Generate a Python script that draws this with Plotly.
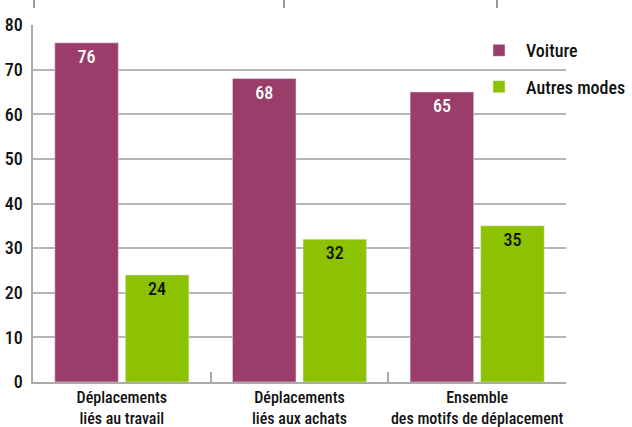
import plotly.graph_objects as go

categories = ["Déplacements<br>liés au travail", "Déplacements<br>liés aux achats", "Ensemble<br>des motifs de déplacement"]
voiture = [76, 68, 65]
autres = [24, 32, 35]
y_ticks = [0, 10, 20, 30, 40, 50, 60, 70, 80]

FONT = "Roboto Condensed, Roboto, sans-serif"
PURPLE = "#9b3d6a"
GREEN = "#8dc200"

fig = go.Figure()
fig.add_trace(go.Bar(
    name="Voiture", x=categories, y=voiture, marker_color=PURPLE, legendgroup="v",
    text=[str(v) for v in voiture], textposition="inside", insidetextanchor="end",
    textfont=dict(color="white", size=18, family=FONT, weight=500), cliponaxis=False,
))
fig.add_trace(go.Bar(
    name="Autres modes", x=categories, y=autres, marker_color=GREEN, legendgroup="a",
    text=[str(v) for v in autres], textposition="inside", insidetextanchor="end",
    textfont=dict(color="#111111", size=18, family=FONT, weight=500), cliponaxis=False,
))

fig.update_layout(
    width=632, height=427,
    margin=dict(l=33, r=66, t=25, b=45, autoexpand=False),
    paper_bgcolor="white", plot_bgcolor="white",
    barmode="group", bargap=0.206, bargroupgap=0.099,
    font=dict(family=FONT, size=16, color="#111111"),
    showlegend=True,
    legend=dict(x=(631 - 33) / 533, y=0.98, xanchor="right", yanchor="top",
                bgcolor="rgba(0,0,0,0)", traceorder="grouped",
                font=dict(size=18, family=FONT, color="#111111", weight=500),
                tracegroupgap=10, itemwidth=44),
    uniformtext=dict(mode="show", minsize=18),
)
fig.update_xaxes(
    automargin=False, tickangle=0,
    showline=True, linecolor="#aaaaaa", linewidth=1.5,
    ticks="inside", tickson="boundaries", ticklen=10, tickcolor="#aaaaaa", tickwidth=1.5,
    tickfont=dict(size=16, family=FONT, color="#111111", weight=500),
    showgrid=False,
)
fig.update_yaxes(
    automargin=False,
    range=[0, 80], tickvals=y_ticks, ticktext=[str(t) for t in y_ticks],
    showline=True, linecolor="#aaaaaa", linewidth=1.5,
    showgrid=True, gridcolor="#b5b5b5", gridwidth=1.5,
    ticks="", ticklabelstandoff=5,
    tickfont=dict(size=18, family=FONT, color="#111111", weight=500),
    zeroline=False,
)
# decorative tick marks at the top edge of the image
for xpx in [34, 284, 497]:
    xp = (xpx - 33) / 533
    fig.add_shape(type="line", xref="paper", yref="paper",
                  x0=xp, x1=xp, y0=1 + 17 / 357, y1=1 + 25 / 357,
                  line=dict(color="#555555", width=1.2))

fig.write_html("out.html", config={"displayModeBar": False},
               post_script="document.body.style.margin='0';")
